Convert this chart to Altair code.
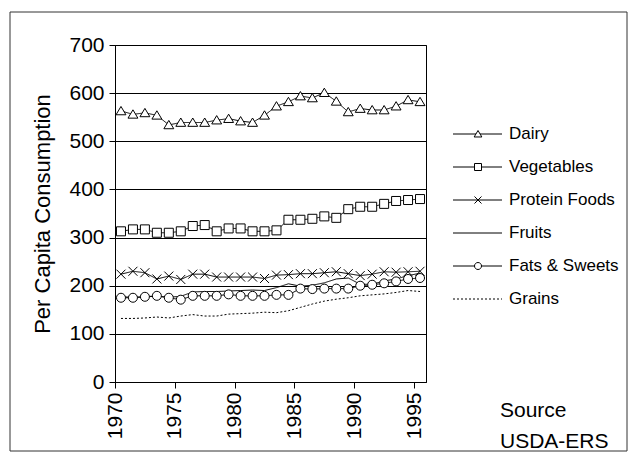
import altair as alt
import pandas as pd

years = list(range(1970, 1996))
dairy = [563, 556, 559, 554, 534, 539, 539, 539, 544, 547, 542, 539, 554, 573, 582, 594, 590, 601, 583, 561, 568, 565, 565, 573, 586, 582]
vegetables = [313, 317, 317, 310, 310, 313, 324, 326, 313, 319, 319, 313, 313, 315, 337, 337, 339, 344, 341, 359, 364, 364, 370, 376, 378, 380]
protein = [224, 230, 227, 214, 220, 213, 224, 224, 218, 218, 218, 218, 215, 222, 223, 225, 225, 227, 229, 225, 221, 224, 229, 228, 229, 230]
fruits = [177, 176, 177, 178, 176, 178, 187, 188, 188, 189, 190, 191, 190, 196, 204, 199, 201, 206, 214, 216, 203, 203, 210, 214, 221, 226]
fats = [175, 175, 177, 179, 175, 171, 179, 179, 179, 182, 179, 179, 179, 181, 181, 194, 193, 194, 194, 194, 200, 202, 205, 209, 214, 216]
grains = [132, 132, 133, 135, 133, 137, 140, 137, 137, 141, 142, 143, 145, 144, 148, 155, 162, 168, 172, 175, 179, 181, 183, 186, 190, 188]

series_names = ["Dairy", "Vegetables", "Protein Foods", "Fruits", "Fats & Sweets", "Grains"]
series_values = [dairy, vegetables, protein, fruits, fats, grains]
marker_series = ["Dairy", "Vegetables", "Protein Foods", "Fats & Sweets"]
source_lines = ["Source", "USDA-ERS"]
x_ticks = [1970, 1975, 1980, 1985, 1990, 1995]
y_ticks = [0, 100, 200, 300, 400, 500, 600, 700]

TRI = "M0,-1L1.1,0.85L-1.1,0.85Z"
SQ = "M-1,-1L1,-1L1,1L-1,1Z"
XX = "M-1,-1L1,1M-1,1L1,-1"
CI = "M1,0A1,1,0,1,1,-1,0A1,1,0,1,1,1,0Z"
marker_paths = [TRI, SQ, XX, CI]

FONT = "Liberation Sans"

rows = []
for name, vals in zip(series_names, series_values):
    for yr, v in zip(years, vals):
        rows.append({"series": name, "year": yr, "value": v})
df = pd.DataFrame(rows)

dash_scale = alt.Scale(domain=series_names, range=[[1, 0]] * 5 + [[2, 2]])
shape_scale = alt.Scale(domain=marker_series, range=marker_paths)
xscale = alt.Scale(domain=[1970, 1996], nice=False, zero=False)
yscale = alt.Scale(domain=[0, 700], nice=False)

xenc = alt.X(
    "xpos:Q", scale=xscale,
    axis=alt.Axis(values=x_ticks, format="d", labelAngle=270, grid=False,
                  tickSize=6, labelPadding=4, domainColor="black", tickColor="black",
                  labelFontSize=21, labelFont=FONT, labelColor="black"),
    title=None,
)
yenc = alt.Y(
    "value:Q", scale=yscale,
    axis=alt.Axis(values=y_ticks, grid=True, gridColor="black", gridOpacity=1,
                  tickSize=6, labelPadding=5, domainColor="black", tickColor="black",
                  labelFontSize=21, labelFont=FONT, labelColor="black",
                  titleFont=FONT, titleFontSize=22, titleFontWeight="normal",
                  titleColor="black", titlePadding=14),
    title="Per Capita Consumption",
)

base = alt.Chart(df).transform_calculate(xpos="datum.year + 0.5")

lines = base.mark_line(color="black", strokeWidth=1).encode(
    x=xenc, y=yenc, detail="series:N",
    strokeDash=alt.StrokeDash("series:N", scale=dash_scale, legend=None),
)

points = base.transform_filter(
    alt.FieldOneOfPredicate(field="series", oneOf=marker_series)
).mark_point(filled=True, fill="white", stroke="black", strokeWidth=1, size=81, opacity=1).encode(
    x=xenc, y=yenc,
    shape=alt.Shape("series:N", scale=shape_scale, legend=None),
)

plot = alt.layer(lines, points)

legend_df = pd.DataFrame({"series": series_names})
ly = alt.Y("series:N", scale=alt.Scale(type="point", domain=series_names, range=[89, 254], padding=0), axis=None)

leg_rule = alt.Chart(legend_df).mark_rule(color="black", strokeWidth=1).encode(
    x=alt.value(338), x2=alt.value(387), y=ly,
    strokeDash=alt.StrokeDash("series:N", scale=dash_scale, legend=None),
)
leg_pts = alt.Chart(legend_df).transform_filter(
    alt.FieldOneOfPredicate(field="series", oneOf=marker_series)
).mark_point(filled=True, fill="white", stroke="black", strokeWidth=1, size=49, opacity=1).encode(
    x=alt.value(363), y=ly,
    shape=alt.Shape("series:N", scale=shape_scale, legend=None),
)
leg_txt = alt.Chart(legend_df).mark_text(align="left", baseline="middle", fontSize=17, font=FONT, color="black").encode(
    x=alt.value(394), y=ly, text="series:N",
)
legend = alt.layer(leg_rule, leg_pts, leg_txt)

src_df = pd.DataFrame({"t": source_lines})
src = alt.Chart(src_df).mark_text(align="left", baseline="middle", fontSize=21, font=FONT, color="black").encode(
    x=alt.value(385),
    y=alt.Y("t:N", scale=alt.Scale(type="point", domain=source_lines, range=[366, 397], padding=0), axis=None),
    text="t:N",
)

frame = alt.Chart(pd.DataFrame({"a": [0]})).mark_rect(fillOpacity=0, stroke="#333333", strokeWidth=1).encode(
    x=alt.value(-105), x2=alt.value(512), y=alt.value(-33), y2=alt.value(406),
)

chart = alt.layer(plot, legend, src, frame).resolve_scale(
    y="independent"
).properties(
    width=311, height=337,
    autosize=alt.AutoSizeParams(type="none"),
    padding={"left": 107, "top": 37, "right": 203, "bottom": 73},
    background="white",
).configure_view(stroke="black", strokeWidth=1)

chart.save("out.html", embed_options={"renderer": "svg", "actions": False})
